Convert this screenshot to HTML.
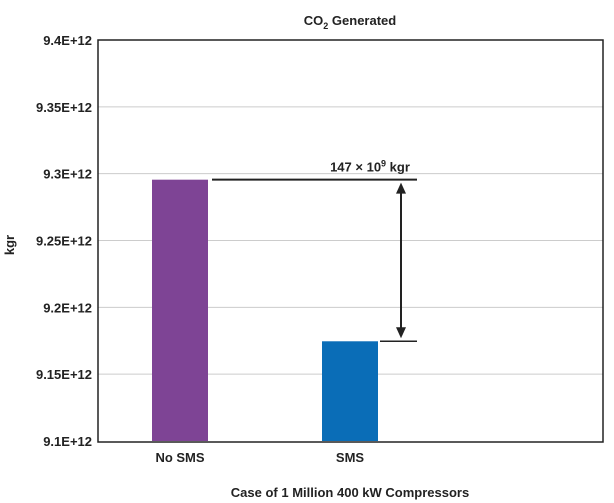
<!DOCTYPE html>
<html><head><meta charset="utf-8"><style>
body{margin:0;background:#fff;}
svg{display:block;font-family:"Liberation Sans",sans-serif;}
</style></head><body>
<svg id="chart" width="614" height="503">
<rect width="614" height="503" fill="#fff"/>
<text x="350" y="25" text-anchor="middle" font-size="13" font-weight="bold" fill="#222">CO<tspan font-size="9" dy="4">2</tspan><tspan dy="-4"> Generated</tspan></text>
<text transform="translate(14,245) rotate(-90)" text-anchor="middle" font-size="13" font-weight="bold" fill="#222">kgr</text>
<text x="350" y="497" text-anchor="middle" font-size="13" font-weight="bold" fill="#222">Case of 1 Million 400 kW Compressors</text>
<g id="grid"></g><g id="bars"></g><g id="labels"></g>
<rect x="98" y="40" width="505" height="402" fill="none" stroke="#222" stroke-width="1.5"/>
<g id="annot"></g>
</svg>
<script>
const categories=["No SMS","SMS"];
const values=[9.2955e12,9.1746e12];
const ticks=[9.1e12,9.15e12,9.2e12,9.25e12,9.3e12,9.35e12,9.4e12];
const tickLabels=["9.1E+12","9.15E+12","9.2E+12","9.25E+12","9.3E+12","9.35E+12","9.4E+12"];
const diffLabel=["147"];
const colors=["#7e4495","#0a6db7"];
const NS="http://www.w3.org/2000/svg";
const y0=441,y1=40,vmin=9.1e12,vmax=9.4e12;
function y(v){return y0-(v-vmin)/(vmax-vmin)*(y0-y1);}
function x(i){return 180+i*170;}
function mk(t,a,p){const e=document.createElementNS(NS,t);for(const k in a)e.setAttribute(k,a[k]);p.appendChild(e);return e;}
const g=document.getElementById('grid'),b=document.getElementById('bars'),l=document.getElementById('labels'),an=document.getElementById('annot');
ticks.forEach((t,i)=>{
 if(i>0&&i<ticks.length-1){const ln=mk('line',{x1:98,x2:603,y1:y(t),y2:y(t),stroke:'#ccc','stroke-width':1},g);
 
 }
 const tx=mk('text',{x:92,y:y(t)+5,'text-anchor':'end','font-size':13,'font-weight':'bold',fill:'#222'},l);
 tx.textContent=tickLabels[i];
 
 
});
categories.forEach((c,i)=>{
 const r=mk('rect',{x:x(i)-28,y:y(values[i]),width:56,height:y0-y(values[i]),fill:colors[i]},b);
 
 
 const tx=mk('text',{x:x(i),y:462,'text-anchor':'middle','font-size':13,'font-weight':'bold',fill:'#222'},l);
 tx.textContent=c;
 
 
});
const ya=y(values[0]),yb=y(values[1]);
mk('line',{x1:x(0)+32,x2:417,y1:ya,y2:ya,stroke:'#222','stroke-width':2},an);
mk('line',{x1:x(1)+30,x2:417,y1:yb,y2:yb,stroke:'#222','stroke-width':1.5},an);
mk('line',{x1:401,x2:401,y1:ya+10,y2:yb-10,stroke:'#222','stroke-width':2},an);
mk('polygon',{points:`401,${ya+3} 396,${ya+14} 406,${ya+14}`,fill:'#222'},an);
mk('polygon',{points:`401,${yb-3} 396,${yb-14} 406,${yb-14}`,fill:'#222'},an);
const at=mk('text',{x:370,y:ya-8,'text-anchor':'middle','font-size':13,'font-weight':'bold',fill:'#222'},an);
at.innerHTML=diffLabel[0]+' × 10<tspan font-size="9" dy="-5">9</tspan><tspan dy="5"> kgr</tspan>';




</script>
</body></html>
